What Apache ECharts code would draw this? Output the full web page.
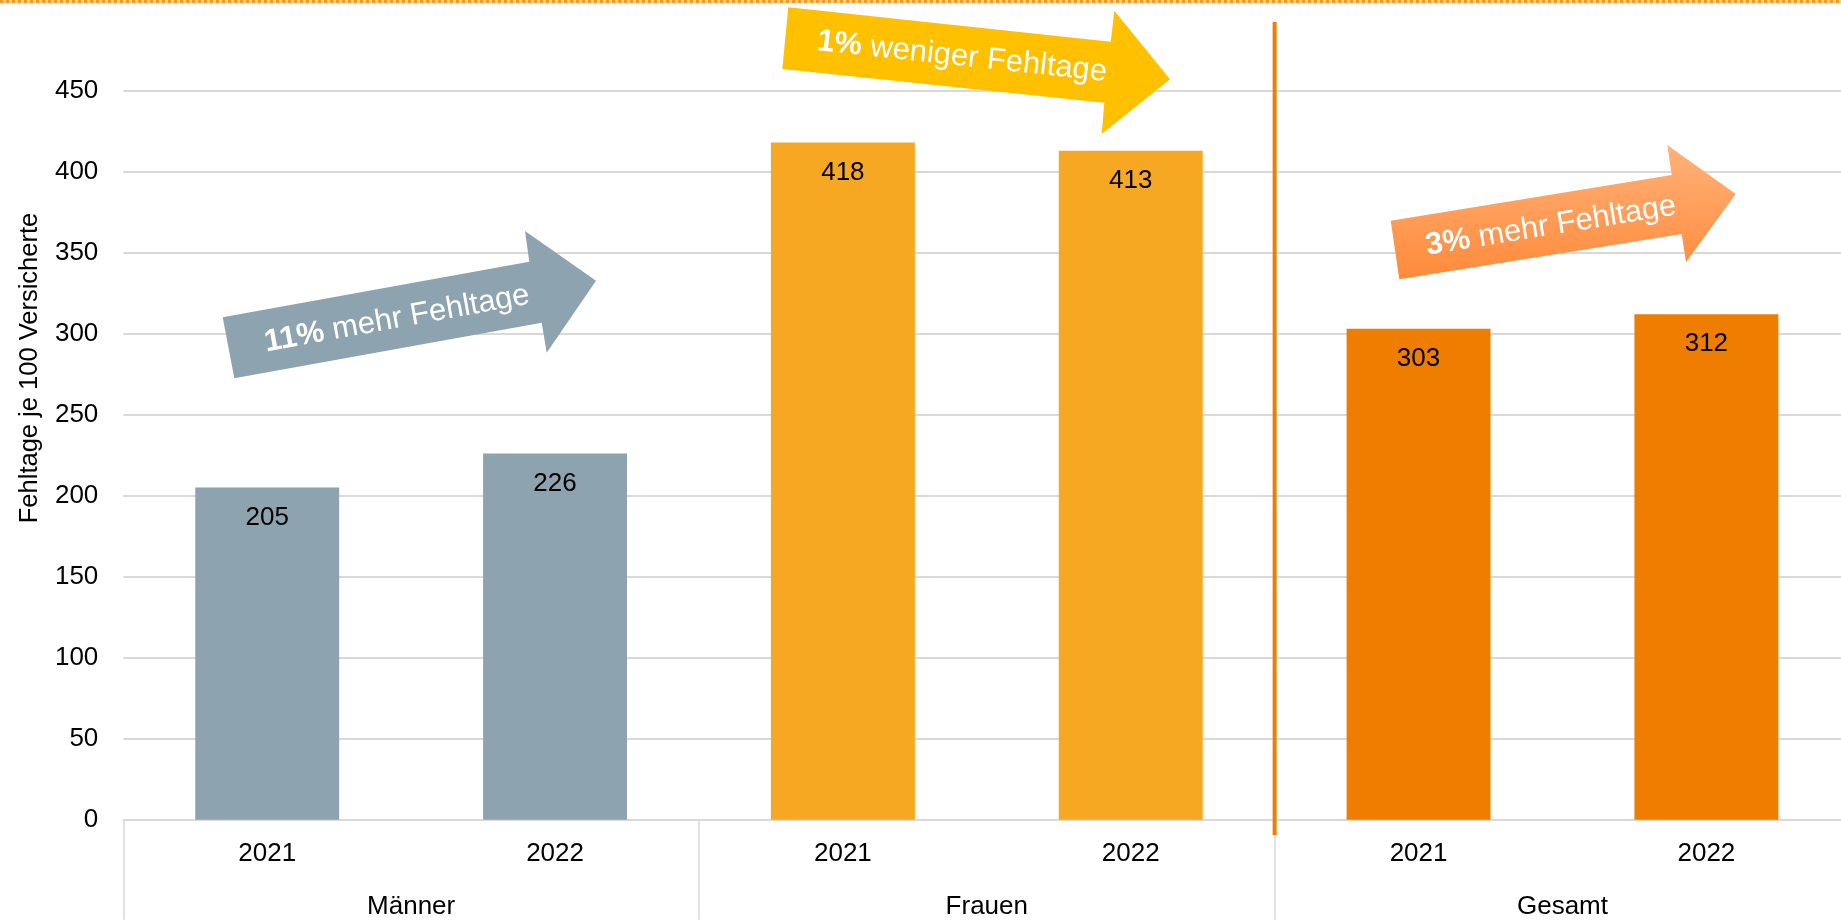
<!DOCTYPE html>
<html>
<head>
<meta charset="utf-8">
<script src="https://cdn.jsdelivr.net/npm/echarts@6/dist/echarts.min.js"></script>
<style>
html,body{margin:0;padding:0;background:#fff;overflow:hidden;}
#c{width:1880px;height:920px;}
</style>
</head>
<body>
<div id="c"></div>
<script>
// ---- data ----
const categories = ['2021', '2022', '2021', '2022', '2021', '2022'];
const groups = ['Männer', 'Frauen', 'Gesamt'];
const values = [205, 226, 418, 413, 303, 312];
const yMin = 0, yMax = 450, yInterval = 50;
const yTitle = 'Fehltage je 100 Versicherte';
const arrowBold = ['11%', '1%', '3%'];
const arrowRest = [' mehr Fehltage', ' weniger Fehltage', ' mehr Fehltage'];

// ---- styles ----
const barColors = ['#8DA3AF', '#8DA3AF', '#F6A823', '#F6A823', '#EF7D00', '#EF7D00'];
const SANS = "'Liberation Sans', Arial, sans-serif";
const GRID = '#D9D9D9';
const LBL = 26;

const chart = echarts.init(document.getElementById('c'), null, {renderer: 'canvas'});

function arrowText(i, cx, cy, deg) {
  return {
    type: 'text', x: cx, y: cy, rotation: deg * Math.PI / 180, z: 20,
    style: {
      text: '{b|' + arrowBold[i] + '}{r|' + arrowRest[i] + '}',
      x: 0, y: 0, align: 'center', verticalAlign: 'middle',
      fill: '#fff', fontSize: 31, fontFamily: SANS,
      rich: {
        b: {fontWeight: 'bold', fontSize: 31, fontFamily: SANS, fill: '#fff'},
        r: {fontSize: 31, fontFamily: SANS, fill: '#fff'}
      }
    }
  };
}

const option = {
  animation: false,
  backgroundColor: '#fff',
  grid: {left: 123.3, top: 90.7, width: 1727, height: 729, containLabel: false},
  xAxis: [
    {
      type: 'category', data: categories, position: 'bottom',
      axisLine: {show: true, lineStyle: {color: GRID, width: 2}},
      axisTick: {show: false},
      axisLabel: {fontSize: LBL, color: '#000', fontFamily: SANS, margin: 21, interval: 0}
    },
    {
      type: 'category', data: groups, position: 'bottom',
      axisLine: {show: false},
      axisTick: {show: true, length: 100, lineStyle: {color: GRID, width: 1.5}},
      axisLabel: {fontSize: LBL, color: '#000', fontFamily: SANS, margin: 74, interval: 0},
      splitLine: {show: false}
    }
  ],
  yAxis: {
    type: 'value', min: yMin, max: yMax, interval: yInterval,
    axisLine: {show: false}, axisTick: {show: false},
    axisLabel: {fontSize: LBL, color: '#000', fontFamily: SANS, margin: 25},
    splitLine: {lineStyle: {color: GRID, width: 2}}
  },
  series: [{
    type: 'bar', xAxisIndex: 0, barWidth: '50%',
    data: values.map((v, i) => ({value: v, itemStyle: {color: barColors[i]}})),
    label: {show: true, position: 'insideTop', distance: 17, fontSize: LBL, color: '#000', fontFamily: SANS}
  }]
};
chart.setOption(option);

// separator position between groups 'Frauen' and 'Gesamt'
const p3 = chart.convertToPixel({xAxisIndex: 0}, 3);
const p4 = chart.convertToPixel({xAxisIndex: 0}, 4);
const sepX = (p3 + p4) / 2;

chart.setOption({
  graphic: [
    // top decorative dashed line
    {type: 'line', shape: {x1: 0, y1: 1.5, x2: 1880, y2: 1.5}, style: {stroke: '#FFD27A', lineWidth: 3}, z: 1},
    {type: 'line', shape: {x1: 0, y1: 1.5, x2: 1880, y2: 1.5}, style: {stroke: '#EF9A2A', lineWidth: 3, lineDash: [3, 3]}, z: 2},
    // vertical orange separator
    {type: 'line', shape: {x1: sepX, y1: 22, x2: sepX, y2: 835}, style: {stroke: '#EF7D00', lineWidth: 4}, z: 10},
    // y axis title
    {type: 'text', x: 30, y: 368, rotation: Math.PI / 2, z: 10,
      style: {text: yTitle, x: 0, y: 0, align: 'center', verticalAlign: 'middle', fill: '#000', fontSize: 25.5, fontFamily: SANS}},
    // arrow 1 (grey)
    {type: 'polygon', z: 15, shape: {points: [[222.7, 317.3], [529.3, 261.7], [525, 231], [596, 280.7], [546.7, 352.7], [541.7, 322.7], [234.3, 378.3]]},
      style: {fill: '#8DA3AF'}},
    arrowText(0, 397, 319, 10.3),
    // arrow 2 (yellow)
    {type: 'polygon', z: 15, shape: {points: [[788.3, 7.3], [1110.7, 41.7], [1114.3, 10.7], [1170, 79.3], [1101.7, 134], [1104.3, 102.7], [782.3, 69]]},
      style: {fill: '#FFC000'}},
    arrowText(1, 962, 57, -6.1),
    // arrow 3 (orange gradient)
    {type: 'polygon', z: 15, shape: {points: [[1390.7, 220.7], [1671.7, 175], [1667.3, 145], [1735.7, 194], [1686, 262.3], [1681.7, 234], [1399.3, 279.3]]},
      style: {fill: new echarts.graphic.LinearGradient(0, 0, 0, 1, [{offset: 0, color: '#FFB27A'}, {offset: 1, color: '#FF8A3A'}])}},
    arrowText(2, 1551, 226, 9.2)
  ]
});
</script>
</body>
</html>
